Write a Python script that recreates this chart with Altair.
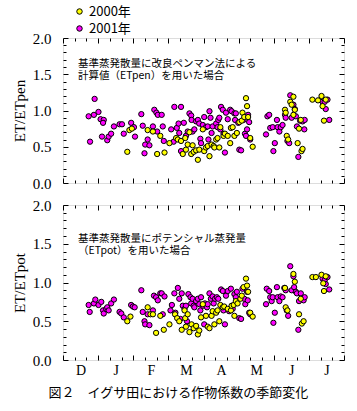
import altair as alt
import pandas as pd

months = ["D", "J", "F", "M", "A", "M", "J", "J"]
years = ["2000年", "2001年"]
colors = ["#FFFF00", "#FF00FF"]
y_ticks = [0.0, 0.5, 1.0, 1.5, 2.0]

# ---- top panel: ET/ETpen (x in months from 1 Dec) ----
pen_2001_x = [0.73, 0.77, 0.90, 0.88, 1.01, 1.07, 1.16, 1.14, 1.11, 1.26, 1.30, 1.37, 1.45, 1.61, 1.68, 1.73,
              1.94, 2.02, 2.05, 2.23, 2.27, 2.32, 2.34, 2.41, 2.46, 2.56, 2.60, 2.66, 2.70, 2.81, 2.68, 2.84,
              2.87, 3.08, 3.17, 3.15, 3.24, 3.29, 3.36, 3.31, 3.36, 3.44, 3.50, 3.55, 3.60, 3.65, 3.66, 3.69,
              3.74, 3.79, 3.84, 3.88, 3.91, 3.93, 3.98, 4.02, 4.07, 4.12, 4.14, 4.17, 4.20, 4.23, 4.26, 4.36,
              4.40, 4.42, 4.45, 4.48, 4.50, 4.55, 4.57, 4.61, 4.64, 4.69, 4.76, 4.80, 4.88, 4.90, 4.92, 4.99,
              5.02, 5.07, 5.14, 5.18, 5.21, 5.24, 5.27, 5.30, 5.33, 5.78, 5.82, 5.87, 5.90, 5.97, 5.99, 6.03,
              6.09, 6.11, 6.16, 6.20, 6.25, 6.32, 6.34, 6.39, 6.44, 6.47, 6.51, 6.56, 6.60, 6.63, 6.66, 6.70,
              6.75, 6.82, 6.87, 6.88, 7.39, 7.45, 7.48, 7.53, 7.58]
pen_2001_y = [0.92, 0.57, 1.16, 0.94, 0.98, 0.88, 0.87, 0.83, 0.64, 0.59, 0.64, 0.68, 0.78, 0.81, 0.81, 0.68,
              0.83, 0.77, 0.64, 0.95, 0.79, 0.41, 0.53, 0.60, 0.52, 0.78, 1.01, 0.97, 0.94, 0.94, 0.71, 0.78,
              0.58, 0.74, 1.05, 0.57, 0.76, 0.82, 1.05, 0.69, 0.44, 0.83, 0.65, 0.71, 0.96, 0.93, 0.87, 0.71,
              0.74, 0.85, 0.87, 0.82, 0.61, 0.55, 0.80, 0.91, 0.77, 0.78, 0.60, 0.99, 0.90, 0.69, 0.78, 0.82,
              0.77, 0.87, 0.90, 0.74, 1.05, 1.01, 0.68, 0.42, 0.97, 0.88, 1.01, 0.99, 0.96, 0.87, 0.96, 0.83,
              0.46, 0.45, 0.87, 0.68, 0.65, 0.74, 0.94, 0.84, 0.60, 0.67, 0.92, 0.94, 0.76, 0.77, 0.44, 0.55,
              0.87, 0.77, 0.71, 0.77, 0.80, 0.94, 0.90, 0.58, 0.55, 1.21, 0.90, 1.08, 1.02, 0.92, 0.78, 0.36,
              0.86, 0.85, 0.74, 0.87, 1.12, 1.12, 1.02, 1.15, 0.87]
pen_2000_x = [1.83, 1.89, 1.96, 2.41, 2.56, 2.68, 2.77, 2.89, 3.03, 3.22, 3.27, 3.36, 3.41, 3.48, 3.50, 3.55,
              3.60, 3.65, 3.69, 3.72, 3.79, 3.84, 3.88, 3.98, 4.02, 4.07, 4.12, 4.17, 4.23, 4.29, 4.31, 4.36,
              4.40, 4.45, 4.48, 4.57, 4.61, 4.69, 4.76, 4.78, 4.83, 4.88, 4.95, 5.02, 5.09, 5.11, 5.16, 5.21,
              5.24, 5.27, 5.33, 5.40, 6.32, 6.34, 6.37, 6.41, 6.47, 6.51, 6.56, 6.60, 6.56, 6.68, 6.72, 6.77,
              6.79, 6.82, 7.10, 7.26, 7.36, 7.39, 7.43, 7.48]
pen_2000_y = [0.43, 0.73, 0.75, 0.73, 0.71, 0.40, 0.65, 0.42, 0.55, 0.62, 0.60, 0.58, 0.40, 0.62, 0.46, 0.53,
              0.70, 0.40, 0.52, 0.43, 0.45, 0.32, 0.46, 0.74, 0.44, 0.49, 0.51, 0.37, 0.53, 0.51, 0.49, 0.60,
              0.62, 0.49, 0.77, 0.65, 0.68, 0.65, 0.55, 0.76, 0.77, 0.65, 0.69, 0.84, 0.86, 0.97, 0.91, 1.17,
              1.06, 0.91, 0.62, 0.50, 1.01, 0.97, 0.65, 0.60, 1.12, 1.08, 1.19, 1.01, 0.94, 0.55, 0.75, 0.87,
              0.44, 0.47, 1.15, 1.14, 1.20, 1.06, 0.86, 1.15]

# ---- bottom panel: ET/ETpot ----
pot_2001_x = [0.73, 0.76, 0.88, 0.92, 1.01, 1.09, 1.14, 1.16, 1.23, 1.26, 1.30, 1.37, 1.45, 1.61, 1.66, 1.73,
              1.94, 1.99, 2.04, 2.23, 2.27, 2.32, 2.34, 2.41, 2.46, 2.56, 2.59, 2.65, 2.70, 2.77, 2.81, 2.84,
              2.89, 3.06, 3.10, 3.17, 3.20, 3.27, 3.31, 3.34, 3.38, 3.41, 3.46, 3.50, 3.53, 3.57, 3.63, 3.65,
              3.69, 3.72, 3.74, 3.79, 3.84, 3.88, 3.91, 3.93, 3.98, 4.02, 4.04, 4.10, 4.12, 4.17, 4.21, 4.26,
              4.29, 4.33, 4.38, 4.42, 4.50, 4.55, 4.57, 4.61, 4.64, 4.69, 4.73, 4.78, 4.83, 4.88, 4.92, 4.95,
              5.02, 5.07, 5.11, 5.16, 5.19, 5.24, 5.26, 5.30, 5.33, 5.78, 5.80, 5.87, 5.90, 5.94, 5.97, 5.99,
              6.03, 6.09, 6.11, 6.16, 6.20, 6.25, 6.30, 6.34, 6.37, 6.41, 6.47, 6.51, 6.56, 6.58, 6.63, 6.66,
              6.70, 6.72, 6.77, 6.85, 6.88, 7.39, 7.45, 7.48, 7.53, 7.58]
pot_2001_y = [0.71, 0.62, 0.73, 0.78, 0.71, 0.75, 0.64, 0.60, 0.66, 0.68, 0.64, 0.73, 0.78, 0.62, 0.60, 0.55,
              0.71, 0.69, 0.68, 0.90, 0.62, 0.50, 0.46, 0.59, 0.45, 0.64, 0.83, 0.81, 0.77, 0.86, 0.86, 0.59,
              0.82, 0.64, 0.71, 0.86, 0.61, 0.93, 0.79, 0.53, 0.86, 0.70, 0.66, 0.70, 0.50, 0.85, 0.81, 0.73,
              0.79, 0.70, 0.68, 0.76, 0.79, 0.72, 0.64, 0.81, 0.70, 0.46, 0.73, 0.68, 0.72, 0.86, 0.79, 0.82,
              0.73, 0.79, 0.81, 0.79, 0.91, 0.89, 0.64, 0.46, 0.83, 0.89, 0.63, 0.92, 0.66, 0.85, 0.81, 0.88,
              0.54, 0.53, 0.92, 0.79, 0.72, 0.88, 0.77, 0.61, 0.59, 0.72, 0.92, 0.89, 0.81, 0.76, 0.81, 0.48,
              0.61, 0.94, 0.81, 0.76, 0.82, 0.81, 0.93, 0.90, 0.64, 0.57, 1.21, 0.90, 1.08, 0.94, 0.88, 0.86,
              0.39, 0.76, 0.86, 0.77, 0.81, 1.05, 1.03, 0.98, 1.07, 0.91]
pot_2000_x = [1.83, 1.92, 2.41, 2.49, 2.56, 2.65, 2.77, 2.87, 3.03, 3.19, 3.25, 3.31, 3.38, 3.46, 3.48, 3.50,
              3.55, 3.60, 3.66, 3.72, 3.79, 3.84, 3.88, 3.93, 3.98, 4.07, 4.12, 4.17, 4.23, 4.26, 4.31, 4.36,
              4.40, 4.45, 4.48, 4.55, 4.59, 4.69, 4.78, 4.80, 4.86, 4.88, 4.92, 4.97, 5.05, 5.09, 5.14, 5.21,
              5.24, 5.27, 5.33, 5.40, 6.32, 6.34, 6.39, 6.56, 6.60, 6.72, 6.77, 6.80, 6.85, 7.10, 7.20, 7.36,
              7.41, 7.43, 7.48]
pot_2000_y = [0.50, 0.56, 0.68, 0.59, 0.59, 0.35, 0.57, 0.39, 0.46, 0.59, 0.54, 0.50, 0.39, 0.64, 0.54, 0.43,
              0.59, 0.36, 0.46, 0.41, 0.44, 0.33, 0.38, 0.55, 0.72, 0.57, 0.43, 0.41, 0.57, 0.63, 0.46, 0.61,
              0.64, 0.50, 0.71, 0.68, 0.69, 0.66, 0.64, 0.70, 0.71, 0.57, 0.76, 0.73, 0.79, 0.83, 0.94, 1.05,
              0.96, 0.88, 0.61, 0.56, 0.93, 0.68, 0.64, 1.11, 1.01, 0.59, 0.79, 0.47, 0.50, 1.07, 1.07, 1.10,
              0.99, 0.89, 1.08]

note_pen = "基準蒸発散量に改良ペンマン法による\n計算値（ETpen）を用いた場合"
note_pot = "基準蒸発散量にポテンシャル蒸発量\n（ETpot）を用いた場合"
caption = "図２　イグサ田における作物係数の季節変化"


def frame(x01, y01, x00, y00):
    d1 = pd.DataFrame({"m": x01, "v": y01, "year": years[1]})
    d0 = pd.DataFrame({"m": x00, "v": y00, "year": years[0]})
    return pd.concat([d1, d0], ignore_index=True)


W = 281
SERIF = "Liberation Serif"
CJK = "Noto Sans CJK JP"
x_major = list(range(9))
x_minor = [i / 3 for i in range(25) if i % 3]
y_major = y_ticks
y_minor = [i / 10 for i in range(21) if i % 5]
month_expr = "[" + ",".join("'%s'" % m for m in months) + "][floor(datum.value)]"


def panel(df, ytitle, H, note, note_y, show_months):
    xs = alt.Scale(domain=[0, 8], nice=False, zero=False)
    ys = alt.Scale(domain=[0, 2], nice=False, zero=False)
    base = alt.Chart(df)
    if show_months:
        xaxis = alt.Axis(values=[m + 0.5 for m in range(8)], labelExpr=month_expr, ticks=False,
                         domain=False, grid=False, labelFont=SERIF, labelFontSize=14,
                         labelPadding=3, labelAngle=0, title=None, labelColor="black")
    else:
        xaxis = None
    yaxis = alt.Axis(values=y_ticks, format=".1f", ticks=False, domain=False, grid=False,
                     labelFont=SERIF, labelFontSize=15, labelPadding=12, labelColor="black",
                     title=ytitle, titleFont=SERIF, titleFontSize=15, titleFontWeight="normal",
                     titlePadding=5, titleColor="black", minExtent=0)
    pts = base.mark_circle(size=28, stroke="black", strokeWidth=1, opacity=1).encode(
        x=alt.X("m:Q", scale=xs, axis=xaxis),
        y=alt.Y("v:Q", scale=ys, axis=yaxis),
        color=alt.Color("year:N", scale=alt.Scale(domain=years, range=colors),
                        legend=alt.Legend(orient="none", legendX=10, legendY=-33, title=None,
                                          symbolType="circle", symbolSize=30,
                                          symbolStrokeColor="black", symbolStrokeWidth=1,
                                          labelFont=CJK, labelFontSize=13, labelColor="black",
                                          padding=0, rowPadding=3, labelOffset=3)),
    )

    def ticks(xorient, yorient, xv, yv, size):
        return base.mark_point(opacity=0).encode(
            x=alt.X("m:Q", scale=xs, axis=alt.Axis(orient=xorient, offset=-H, values=xv, tickSize=size,
                                                    labels=False, domain=False, grid=False, title=None,
                                                    tickColor="black", tickWidth=1, minExtent=0)),
            y=alt.Y("v:Q", scale=ys, axis=alt.Axis(orient=yorient, offset=-W, values=yv, tickSize=size,
                                                    labels=False, domain=False, grid=False, title=None,
                                                    tickColor="black", tickWidth=1, minExtent=0)),
        )

    t1 = ticks("top", "right", x_major, y_major, 5)
    t2 = ticks("top", "right", x_minor, y_minor, 3)
    t3 = ticks("bottom", "left", x_major, y_major, 5)
    t4 = ticks("bottom", "left", x_minor, y_minor, 3)
    txt = alt.Chart(pd.DataFrame({"t": [note]})).mark_text(
        align="left", baseline="middle", font=CJK, fontSize=10.5, lineBreak="\n", lineHeight=12,
        color="black").encode(x=alt.value(15), y=alt.value(note_y), text="t:N")
    return alt.layer(t1, t2, t3, t4, pts, txt).resolve_scale(x="independent", y="independent").properties(
        width=W, height=H)


top = panel(frame(pen_2001_x, pen_2001_y, pen_2000_x, pen_2000_y), "ET/ETpen", 145, note_pen, 26, False)
bottom = panel(frame(pot_2001_x, pot_2001_y, pot_2000_x, pot_2000_y), "ET/ETpot", 155, note_pot, 34, True)

chart = alt.vconcat(top, bottom, spacing=5).properties(
    title=alt.TitleParams(text=caption, orient="bottom", anchor="middle", font=CJK, fontSize=13,
                          fontWeight="normal", color="black", offset=9),
    padding={"left": 11, "top": 5, "right": 5, "bottom": 5},
).configure_view(stroke="black", strokeWidth=1).configure(background="white")

chart.save("out.html", embed_options={"renderer": "svg", "actions": False})
